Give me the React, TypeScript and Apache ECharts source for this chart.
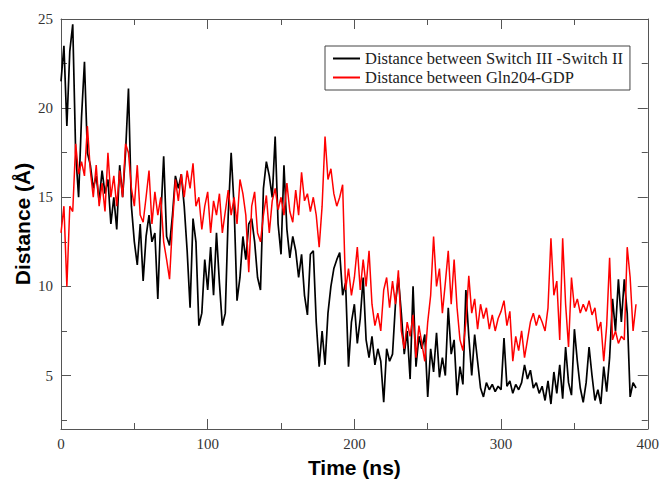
import React, { useEffect, useRef } from "react";
import * as echarts from "echarts";

// sampling step of the trajectories (ns)
const STEP_NS = 2;

// Distance between Switch III - Switch II (Å), t = 0, 2, 4, ... 392 ns
const switchDist = [
  21.5, 23.5, 19.0, 23.2, 24.7, 17.5, 15.0, 19.5, 22.6, 17.5,
  16.8, 15.5, 16.2, 14.8, 16.5, 15.2, 16.0, 13.5, 15.0, 13.2,
  16.8, 15.0, 17.5, 21.1, 14.5, 12.5, 11.2, 13.5, 10.3, 12.8,
  14.0, 12.5, 13.0, 9.3, 13.8, 17.3, 12.8, 12.3, 14.0, 16.2,
  15.5, 16.3, 14.5, 12.0, 8.8, 13.8, 12.5, 7.8, 8.5, 11.5,
  9.8, 12.2, 9.5, 13.0, 10.2, 7.8, 8.5, 14.0, 17.5, 14.5,
  9.2, 10.5, 12.8, 11.5, 13.5, 13.8, 12.5, 10.5, 9.8, 15.5,
  17.0, 16.2, 15.0, 18.4, 13.5, 11.8, 16.8, 13.2, 11.6, 12.8,
  12.0, 10.5, 11.8, 9.5, 8.4, 11.8, 12.0, 8.0, 5.5, 7.5,
  5.6, 8.5, 10.0, 11.0, 11.5, 11.9, 9.5, 10.2, 5.5, 8.0,
  9.0, 6.8, 8.2, 10.5, 7.0, 6.0, 7.2, 5.6, 6.5, 5.8,
  3.5, 6.5, 5.8, 6.2, 9.0, 10.5, 8.5, 6.2, 7.5, 4.8,
  10.0, 5.5, 7.2, 6.5, 7.3, 3.8, 6.5, 5.2, 7.4, 4.9,
  6.0, 5.0, 8.8, 6.2, 7.0, 3.9, 5.5, 4.5, 9.8, 7.2,
  5.0, 7.3, 5.8, 4.3, 3.8, 4.6, 4.2, 4.5, 4.1, 4.4,
  4.2, 7.1, 4.4, 4.7, 4.0, 4.5, 4.2, 4.6, 5.6, 4.8,
  5.3, 4.3, 4.6, 4.0, 4.4, 3.6, 4.7, 3.4, 5.2, 4.0,
  5.6, 3.7, 6.6, 4.6, 3.9, 7.6, 5.8, 4.3, 3.5, 4.6,
  6.6, 5.0, 3.6, 4.2, 3.4, 5.5, 4.1, 6.0, 9.3, 7.5,
  10.4, 8.0, 10.4, 8.5, 3.8, 4.6, 4.3,
];

// Distance between Gln204 - GDP (Å), t = 0, 2, 4, ... 392 ns
const glnDist = [
  13.0, 14.5, 10.0, 14.5, 14.2, 18.0, 16.3, 17.0, 16.2, 19.0,
  16.5, 15.0, 16.8, 14.5, 15.8, 14.2, 17.5, 15.0, 16.2, 14.5,
  16.5, 15.0, 18.0, 17.5, 15.5, 14.5, 16.8, 14.0, 13.6, 15.0,
  16.5, 13.5, 15.3, 14.0, 15.0, 12.5, 11.5, 10.4, 13.5, 16.0,
  14.8, 16.3, 15.0, 16.5, 15.5, 16.9, 14.5, 15.0, 13.2, 14.5,
  15.3, 13.0, 14.8, 14.0, 15.2, 13.0, 14.2, 15.4, 14.0, 15.0,
  13.5, 16.0, 15.2, 14.0, 10.8, 14.5, 15.3, 13.0, 12.5, 14.0,
  15.1, 13.0, 14.8, 15.5, 14.3, 15.0, 14.0, 15.8, 14.2, 13.6,
  15.4, 14.0, 16.4, 14.8, 15.2, 14.2, 15.0, 14.0, 12.2, 14.5,
  18.4, 16.0, 16.6, 15.2, 14.5, 15.0, 15.7, 9.8, 11.0, 9.5,
  10.5, 12.2, 9.8, 11.5, 10.0, 12.0, 9.0, 7.8, 8.5, 7.5,
  9.8, 10.5, 8.8, 10.3, 9.0, 10.9, 7.5, 6.5, 8.0, 7.2,
  8.4, 6.0, 7.8, 6.8, 5.8, 8.0, 9.5, 12.8, 10.0, 11.0,
  8.5, 10.2, 12.0, 9.0, 11.5, 8.8, 7.0, 6.4, 8.0, 10.6,
  8.5, 9.3, 7.6, 9.0, 8.2, 8.8, 7.6, 8.4, 7.5, 8.2,
  8.6, 9.2, 7.8, 8.6, 5.8, 7.2, 6.4, 7.5, 6.0, 7.0,
  8.0, 8.5, 7.8, 8.4, 8.0, 7.5, 8.8, 12.7, 9.5, 10.3,
  7.0, 12.7, 9.0, 6.6, 10.5, 8.8, 9.3, 8.5, 9.0, 8.6,
  9.2, 8.4, 8.8, 7.5, 8.0, 5.8, 7.8, 11.6, 7.0, 7.5,
  6.8, 7.2, 7.0, 12.2, 10.5, 7.5, 9.0,
];

const seriesNames = [
  "Distance between Switch III -Switch II",
  "Distance between Gln204-GDP",
];
const yMajorTicks = [5, 10, 15, 20, 25];
const yMinorTicks = [2.5, 7.5, 12.5, 17.5, 22.5];

const AXIS_COLOR = "#555";
const SERIF = "'Liberation Serif', 'Times New Roman', serif";
const SANS = "'Liberation Sans', Arial, sans-serif";

export default function App() {
  const ref = useRef<HTMLDivElement>(null);

  useEffect(() => {
    if (!ref.current) return;
    const chart = echarts.init(ref.current, null, { renderer: "svg" });

    const toPairs = (arr: number[]) => arr.map((v, i) => [i * STEP_NS, v]);

    const xBase = {
      type: "value" as const,
      min: 0,
      max: 400,
      interval: 100,
      splitLine: { show: false },
      axisLine: { show: true, lineStyle: { color: AXIS_COLOR, width: 1 } },
      axisTick: { show: true, inside: true, length: 10, lineStyle: { color: AXIS_COLOR } },
      minorTick: { show: true, splitNumber: 2, length: 6, lineStyle: { color: AXIS_COLOR } },
    };
    const yBase = {
      type: "value" as const,
      min: 2,
      max: 25,
      splitLine: { show: false },
    };

    chart.setOption({
      animation: false,
      backgroundColor: "#fff",
      grid: { left: 61, right: 14, top: 19, bottom: 54 },
      legend: {
        orient: "vertical",
        left: 325,
        top: 46,
        padding: [4, 7, 4, 8],
        itemGap: 2,
        itemWidth: 27,
        itemHeight: 2,
        itemTextGap: 8,
        icon: "rect",
        borderColor: "#444",
        borderWidth: 1,
        backgroundColor: "#fff",
        textStyle: { fontFamily: SERIF, fontSize: 16.5, color: "#222" },
        data: seriesNames,
      },
      xAxis: [
        {
          ...xBase,
          position: "bottom",
          axisLabel: { margin: 7, fontFamily: SERIF, fontSize: 15, color: "#333" },
          name: "Time (ns)",
          nameLocation: "middle",
          nameGap: 28,
          nameTextStyle: { fontFamily: SANS, fontWeight: "bold", fontSize: 21, color: "#000" },
        },
        {
          ...xBase,
          position: "top",
          axisLabel: { show: false },
        },
      ],
      yAxis: [
        {
          ...yBase,
          position: "left",
          axisLine: { show: true, lineStyle: { color: AXIS_COLOR, width: 1 } },
          axisTick: {
            show: true,
            inside: true,
            length: 10,
            customValues: yMajorTicks,
            lineStyle: { color: AXIS_COLOR },
          },
          axisLabel: {
            customValues: yMajorTicks,
            margin: 8,
            fontFamily: SERIF,
            fontSize: 15,
            color: "#333",
          },
          name: "Distance (Å)",
          nameLocation: "middle",
          nameGap: 28,
          nameMoveOverlap: false,
          nameTextStyle: { fontFamily: SANS, fontWeight: "bold", fontSize: 21, color: "#000" },
        },
        {
          ...yBase,
          position: "left",
          axisLine: { show: false },
          axisTick: {
            show: true,
            inside: true,
            length: 6,
            customValues: yMinorTicks,
            lineStyle: { color: AXIS_COLOR },
          },
          axisLabel: { show: false },
        },
        {
          ...yBase,
          position: "right",
          axisLine: { show: true, lineStyle: { color: AXIS_COLOR, width: 1 } },
          axisTick: {
            show: true,
            inside: true,
            length: 10,
            customValues: yMajorTicks,
            lineStyle: { color: AXIS_COLOR },
          },
          axisLabel: { show: false },
        },
        {
          ...yBase,
          position: "right",
          axisLine: { show: false },
          axisTick: {
            show: true,
            inside: true,
            length: 6,
            customValues: yMinorTicks,
            lineStyle: { color: AXIS_COLOR },
          },
          axisLabel: { show: false },
        },
      ],
      series: [
        {
          name: seriesNames[0],
          type: "line",
          xAxisIndex: 0,
          yAxisIndex: 0,
          showSymbol: false,
          data: toPairs(switchDist),
          lineStyle: { color: "#000", width: 1.7 },
          itemStyle: { color: "#000" },
        },
        {
          name: seriesNames[1],
          type: "line",
          xAxisIndex: 0,
          yAxisIndex: 0,
          showSymbol: false,
          data: toPairs(glnDist),
          lineStyle: { color: "#ff0000", width: 1.5 },
          itemStyle: { color: "#ff0000" },
        },
      ],
    });

    return () => chart.dispose();
  }, []);

  return (
    <div
      ref={ref}
      style={{ position: "absolute", left: 0, top: 0, width: 662, height: 483 }}
    />
  );
}
